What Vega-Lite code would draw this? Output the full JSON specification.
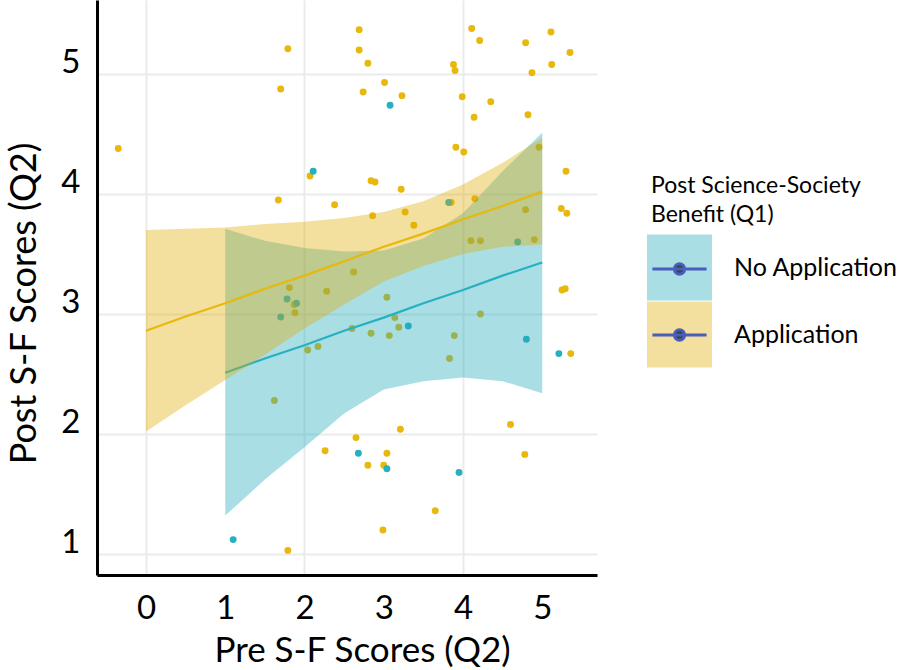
{
  "$schema": "https://vega.github.io/schema/vega-lite/v6.json",
  "width": 500,
  "height": 575,
  "autosize": {"type": "none"},
  "padding": {"left": 97, "top": 0, "right": 301, "bottom": 95},
  "background": "white",
  "config": {
    "font": "Lato",
    "view": {"stroke": null},
    "axis": {"labelColor": "#000", "titleColor": "#000", "titleFontWeight": "normal"}
  },
  "datasets": {
    "pts": [
      {"pre": 1.79, "post": 5.21, "grp": "Application"},
      {"pre": 1.70, "post": 4.875, "grp": "Application"},
      {"pre": -0.35, "post": 4.38, "grp": "Application"},
      {"pre": 2.07, "post": 4.15, "grp": "Application"},
      {"pre": 1.67, "post": 3.95, "grp": "Application"},
      {"pre": 2.69, "post": 5.37, "grp": "Application"},
      {"pre": 2.69, "post": 5.20, "grp": "Application"},
      {"pre": 2.80, "post": 5.09, "grp": "Application"},
      {"pre": 3.01, "post": 4.93, "grp": "Application"},
      {"pre": 2.74, "post": 4.85, "grp": "Application"},
      {"pre": 3.23, "post": 4.82, "grp": "Application"},
      {"pre": 4.11, "post": 5.38, "grp": "Application"},
      {"pre": 4.21, "post": 5.28, "grp": "Application"},
      {"pre": 3.88, "post": 5.08, "grp": "Application"},
      {"pre": 3.90, "post": 5.03, "grp": "Application"},
      {"pre": 3.99, "post": 4.81, "grp": "Application"},
      {"pre": 4.35, "post": 4.77, "grp": "Application"},
      {"pre": 4.14, "post": 4.64, "grp": "Application"},
      {"pre": 4.79, "post": 5.26, "grp": "Application"},
      {"pre": 5.11, "post": 5.35, "grp": "Application"},
      {"pre": 5.35, "post": 5.18, "grp": "Application"},
      {"pre": 5.12, "post": 5.08, "grp": "Application"},
      {"pre": 4.87, "post": 5.01, "grp": "Application"},
      {"pre": 4.82, "post": 4.66, "grp": "Application"},
      {"pre": 3.91, "post": 4.39, "grp": "Application"},
      {"pre": 4.01, "post": 4.35, "grp": "Application"},
      {"pre": 4.96, "post": 4.39, "grp": "Application"},
      {"pre": 5.30, "post": 4.19, "grp": "Application"},
      {"pre": 2.84, "post": 4.11, "grp": "Application"},
      {"pre": 2.89, "post": 4.10, "grp": "Application"},
      {"pre": 3.22, "post": 4.04, "grp": "Application"},
      {"pre": 2.38, "post": 3.91, "grp": "Application"},
      {"pre": 1.81, "post": 3.22, "grp": "Application"},
      {"pre": 2.28, "post": 3.19, "grp": "Application"},
      {"pre": 1.87, "post": 3.08, "grp": "Application"},
      {"pre": 1.88, "post": 3.01, "grp": "Application"},
      {"pre": 2.04, "post": 2.70, "grp": "Application"},
      {"pre": 2.17, "post": 2.73, "grp": "Application"},
      {"pre": 2.86, "post": 3.82, "grp": "Application"},
      {"pre": 3.27, "post": 3.85, "grp": "Application"},
      {"pre": 3.38, "post": 3.74, "grp": "Application"},
      {"pre": 3.85, "post": 3.93, "grp": "Application"},
      {"pre": 4.15, "post": 3.96, "grp": "Application"},
      {"pre": 4.79, "post": 3.87, "grp": "Application"},
      {"pre": 5.24, "post": 3.88, "grp": "Application"},
      {"pre": 5.31, "post": 3.84, "grp": "Application"},
      {"pre": 4.10, "post": 3.61, "grp": "Application"},
      {"pre": 4.22, "post": 3.61, "grp": "Application"},
      {"pre": 4.90, "post": 3.62, "grp": "Application"},
      {"pre": 2.62, "post": 3.35, "grp": "Application"},
      {"pre": 3.04, "post": 3.14, "grp": "Application"},
      {"pre": 5.25, "post": 3.20, "grp": "Application"},
      {"pre": 5.29, "post": 3.21, "grp": "Application"},
      {"pre": 3.14, "post": 2.97, "grp": "Application"},
      {"pre": 2.60, "post": 2.88, "grp": "Application"},
      {"pre": 2.84, "post": 2.84, "grp": "Application"},
      {"pre": 3.07, "post": 2.82, "grp": "Application"},
      {"pre": 3.19, "post": 2.89, "grp": "Application"},
      {"pre": 4.22, "post": 3.00, "grp": "Application"},
      {"pre": 3.89, "post": 2.82, "grp": "Application"},
      {"pre": 3.83, "post": 2.63, "grp": "Application"},
      {"pre": 5.36, "post": 2.67, "grp": "Application"},
      {"pre": 1.62, "post": 2.28, "grp": "Application"},
      {"pre": 2.26, "post": 1.86, "grp": "Application"},
      {"pre": 1.79, "post": 1.03, "grp": "Application"},
      {"pre": 3.21, "post": 2.04, "grp": "Application"},
      {"pre": 2.65, "post": 1.97, "grp": "Application"},
      {"pre": 3.04, "post": 1.84, "grp": "Application"},
      {"pre": 2.80, "post": 1.74, "grp": "Application"},
      {"pre": 3.00, "post": 1.74, "grp": "Application"},
      {"pre": 4.60, "post": 2.08, "grp": "Application"},
      {"pre": 4.78, "post": 1.83, "grp": "Application"},
      {"pre": 3.65, "post": 1.36, "grp": "Application"},
      {"pre": 2.99, "post": 1.20, "grp": "Application"},
      {"pre": 2.11, "post": 4.19, "grp": "No Application"},
      {"pre": 3.08, "post": 4.74, "grp": "No Application"},
      {"pre": 1.78, "post": 3.125, "grp": "No Application"},
      {"pre": 1.90, "post": 3.09, "grp": "No Application"},
      {"pre": 1.70, "post": 2.975, "grp": "No Application"},
      {"pre": 3.31, "post": 2.90, "grp": "No Application"},
      {"pre": 3.82, "post": 3.93, "grp": "No Application"},
      {"pre": 4.69, "post": 3.60, "grp": "No Application"},
      {"pre": 4.80, "post": 2.79, "grp": "No Application"},
      {"pre": 5.21, "post": 2.67, "grp": "No Application"},
      {"pre": 1.10, "post": 1.12, "grp": "No Application"},
      {"pre": 2.68, "post": 1.84, "grp": "No Application"},
      {"pre": 3.04, "post": 1.71, "grp": "No Application"},
      {"pre": 3.95, "post": 1.68, "grp": "No Application"}
    ],
    "fit": [
      {"grp": "No Application", "x": 1.0, "fit": 2.51, "lo": 1.32, "hi": 3.71},
      {"grp": "No Application", "x": 1.5, "fit": 2.63, "lo": 1.62, "hi": 3.61},
      {"grp": "No Application", "x": 2.0, "fit": 2.74, "lo": 1.89, "hi": 3.55},
      {"grp": "No Application", "x": 2.5, "fit": 2.86, "lo": 2.17, "hi": 3.52},
      {"grp": "No Application", "x": 3.0, "fit": 2.97, "lo": 2.37, "hi": 3.53},
      {"grp": "No Application", "x": 3.5, "fit": 3.09, "lo": 2.44, "hi": 3.63},
      {"grp": "No Application", "x": 4.0, "fit": 3.20, "lo": 2.47, "hi": 3.84},
      {"grp": "No Application", "x": 4.5, "fit": 3.32, "lo": 2.44, "hi": 4.19},
      {"grp": "No Application", "x": 5.0, "fit": 3.43, "lo": 2.34, "hi": 4.51},
      {"grp": "Application", "x": 0.0, "fit": 2.86, "lo": 2.02, "hi": 3.70},
      {"grp": "Application", "x": 0.5, "fit": 2.98, "lo": 2.24, "hi": 3.71},
      {"grp": "Application", "x": 1.0, "fit": 3.09, "lo": 2.45, "hi": 3.72},
      {"grp": "Application", "x": 1.5, "fit": 3.21, "lo": 2.66, "hi": 3.75},
      {"grp": "Application", "x": 2.0, "fit": 3.32, "lo": 2.88, "hi": 3.77},
      {"grp": "Application", "x": 2.5, "fit": 3.44, "lo": 3.08, "hi": 3.80},
      {"grp": "Application", "x": 3.0, "fit": 3.56, "lo": 3.27, "hi": 3.85},
      {"grp": "Application", "x": 3.5, "fit": 3.67, "lo": 3.40, "hi": 3.94},
      {"grp": "Application", "x": 4.0, "fit": 3.79, "lo": 3.50, "hi": 4.08},
      {"grp": "Application", "x": 4.5, "fit": 3.90, "lo": 3.56, "hi": 4.26},
      {"grp": "Application", "x": 5.0, "fit": 4.02, "lo": 3.58, "hi": 4.47}
    ]
  },
  "layer": [
    {
      "data": {"name": "pts"},
      "mark": {"type": "circle", "size": 48, "opacity": 1},
      "encoding": {
        "x": {
          "field": "pre", "type": "quantitative",
          "scale": {"domain": [-0.618, 5.691], "nice": false, "zero": false},
          "axis": {
            "orient": "bottom", "values": [0, 1, 2, 3, 4, 5], "format": "d",
            "grid": true, "gridColor": "#ebebeb", "gridWidth": 2,
            "gridOpacity": {"condition": {"test": "datum.value % 2 === 0", "value": 1}, "value": 0},
            "ticks": false, "domain": true,
            "domainColor": "#000", "domainWidth": 3,
            "labelFontSize": 33, "labelPadding": 17,
            "title": "Pre S-F Scores (Q2)", "titleFontSize": 35, "titlePadding": 8,
            "titleX": 265
          }
        },
        "y": {
          "field": "post", "type": "quantitative",
          "scale": {"domain": [0.825, 5.617], "nice": false, "zero": false},
          "axis": {
            "values": [1, 2, 3, 4, 5], "format": "d",
            "grid": true, "gridColor": "#ebebeb", "gridWidth": 2,
            "ticks": false, "domain": true, "domainColor": "#000", "domainWidth": 3,
            "labelFontSize": 33, "labelPadding": 17, "labelOffset": -12,
            "title": "Post S-F Scores (Q2)", "titleFontSize": 36, "titlePadding": 17,
            "titleY": 303
          }
        },
        "color": {
          "field": "grp", "type": "nominal",
          "sort": ["No Application", "Application"],
          "scale": {"range": ["#26b0c0", "#e8b90c"]},
          "legend": null
        }
      }
    },
    {
      "data": {"name": "fit"},
      "transform": [{"filter": "datum.grp === 'No Application'"}],
      "mark": {"type": "area", "opacity": 0.38},
      "encoding": {
        "x": {"field": "x", "type": "quantitative"},
        "y": {"field": "lo", "type": "quantitative"},
        "y2": {"field": "hi"},
        "fill": {
          "field": "grp", "type": "nominal",
          "sort": ["No Application", "Application"],
          "scale": {"range": ["#1fa8bb", "#dfab00"]},
          "legend": {
            "orient": "none", "legendX": 554, "legendY": 175, "zindex": 0,
            "title": ["Post Science-Society", "Benefit (Q1)"],
            "titleFontSize": 23, "titleFontWeight": "normal", "titleLineHeight": 29,
            "titleLimit": 400,
            "titlePadding": 12, "titleColor": "#000", "padding": 0, "rowPadding": 0,
            "symbolSize": 3249, "symbolOffset": 0,
            "symbolType": "M-1.14,-1.16L1.14,-1.16L1.14,1.16L-1.14,1.16Z",
            "symbolStrokeWidth": 0, "symbolOpacity": 0.38,
            "labelFontSize": 25, "labelOffset": 26, "labelLimit": 400, "labelColor": "#000"
          }
        }
      }
    },
    {
      "data": {"name": "fit"},
      "transform": [{"filter": "datum.grp === 'No Application'"}],
      "mark": {"type": "line", "strokeWidth": 2.2},
      "encoding": {
        "x": {"field": "x", "type": "quantitative"},
        "y": {"field": "fit", "type": "quantitative"},
        "color": {"field": "grp", "type": "nominal", "sort": ["No Application", "Application"], "legend": null}
      }
    },
    {
      "data": {"name": "fit"},
      "transform": [{"filter": "datum.grp === 'Application'"}],
      "mark": {"type": "area", "opacity": 0.38},
      "encoding": {
        "x": {"field": "x", "type": "quantitative"},
        "y": {"field": "lo", "type": "quantitative"},
        "y2": {"field": "hi"},
        "fill": {"field": "grp", "type": "nominal", "sort": ["No Application", "Application"]}
      }
    },
    {
      "data": {"name": "fit"},
      "transform": [{"filter": "datum.grp === 'Application'"}],
      "mark": {"type": "line", "strokeWidth": 2.2},
      "encoding": {
        "x": {"field": "x", "type": "quantitative"},
        "y": {"field": "fit", "type": "quantitative"},
        "color": {"field": "grp", "type": "nominal", "sort": ["No Application", "Application"], "legend": null}
      }
    },
    {
      "data": {"name": "pts"},
      "mark": {"type": "text", "fill": "#33463f", "strokeWidth": 3},
      "encoding": {
        "x": {"field": "pre", "type": "quantitative"},
        "y": {"field": "post", "type": "quantitative"},
        "text": {"value": ""},
        "stroke": {
          "field": "grp", "type": "nominal",
          "sort": ["No Application", "Application"],
          "scale": {"range": ["#4a5cbc", "#4a5cbc"]},
          "legend": {
            "orient": "none", "legendX": 554, "legendY": 175, "zindex": 1,
            "title": ["Post Science-Society", "Benefit (Q1)"],
            "titleFontSize": 23, "titleFontWeight": "normal", "titleLineHeight": 29,
            "titleLimit": 400,
            "titlePadding": 12, "titleOpacity": 0, "padding": 0, "rowPadding": 0,
            "symbolSize": 3249, "symbolOffset": -1.5,
            "symbolType": "M-0.947,-0.947L-0.947,-0.947M0.947,0.947L0.947,0.947M-0.95,0L0.95,0M-0.18,0A0.18,0.18,0,1,1,0.18,0A0.18,0.18,0,1,1,-0.18,0Z",
            "symbolFillColor": "#33463f", "symbolStrokeColor": "#4a5cbc", "symbolStrokeWidth": 3,
            "symbolOpacity": 1,
            "labelFontSize": 25, "labelOffset": 24, "labelLimit": 400, "labelExpr": "''"
          }
        }
      }
    }
  ]
}
